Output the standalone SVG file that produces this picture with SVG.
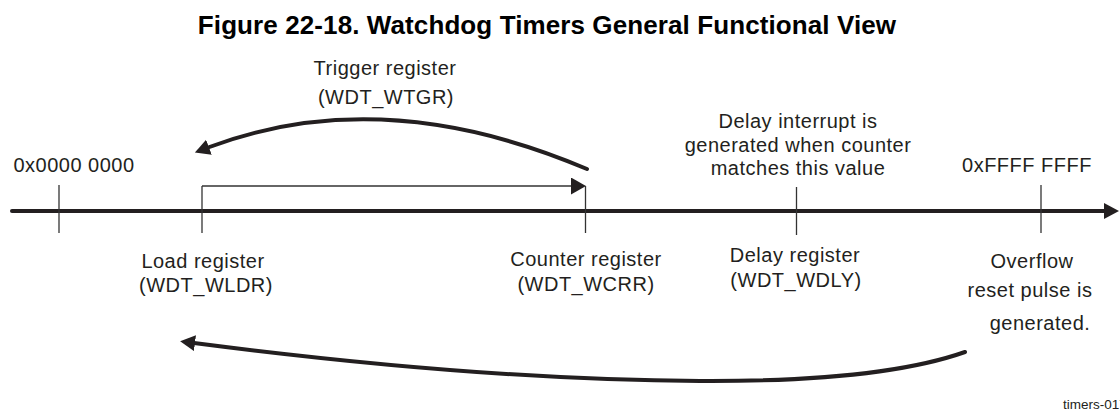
<svg xmlns="http://www.w3.org/2000/svg" width="1120" height="412" viewBox="0 0 1120 412">
  <style>
    text { font-family: "Liberation Sans", Arial, sans-serif; fill: #231f20; }
    .lbl { font-size: 20px; letter-spacing: 0.5px; text-anchor: middle; }
    .title { font-size: 26px; font-weight: bold; fill: #000; text-anchor: middle; letter-spacing: 0.1px; }
    .tag { font-size: 13.5px; }
    .tick { stroke: #333; stroke-width: 1.3; fill: none; }
    .thick { stroke: #231f20; stroke-width: 4; fill: none; stroke-linecap: round; }
    .thin { stroke: #333; stroke-width: 1.3; fill: none; }
  </style>
  <defs>
    <marker id="ah" markerUnits="userSpaceOnUse" markerWidth="16" markerHeight="18" refX="1" refY="8" orient="auto">
      <path d="M0,0 L15,8 L0,16 z" fill="#231f20"/>
    </marker>
    <marker id="ahs" markerUnits="userSpaceOnUse" markerWidth="16" markerHeight="18" refX="1" refY="8.5" orient="auto">
      <path d="M0,0 L15,8.5 L0,17 z" fill="#231f20"/>
    </marker>
  </defs>
  <rect width="1120" height="412" fill="#fff"/>
  <text class="title" x="547" y="34">Figure 22-18. Watchdog Timers General Functional View</text>

  <g id="connectors">
    <line class="thick" x1="12" y1="211" x2="1106" y2="211"/>
    <polygon points="1104,203 1119,211 1104,219" fill="#231f20"/>
    <line class="thin" x1="202" y1="186" x2="572" y2="186" marker-end="url(#ahs)"/>
    <path class="thick" d="M587,169 Q382,82 208,147.5" marker-end="url(#ah)"/>
    <path class="thick" d="M965,352 Q880,382 700,381 Q480,380 194,343" marker-end="url(#ah)"/>
  </g>

  <g id="node-start">
    <line class="tick" x1="59" y1="185" x2="59" y2="233"/>
    <text class="lbl" x="74" y="172">0x0000 0000</text>
  </g>
  <g id="node-load">
    <line class="tick" x1="202" y1="186" x2="202" y2="233"/>
    <text class="lbl" x="203" y="268">Load register</text>
    <text class="lbl" x="206" y="292">(WDT_WLDR)</text>
  </g>
  <g id="node-trigger">
    <text class="lbl" x="385" y="75">Trigger register</text>
    <text class="lbl" x="386" y="104">(WDT_WTGR)</text>
  </g>
  <g id="node-counter">
    <line class="tick" x1="585.5" y1="186" x2="585.5" y2="233"/>
    <text class="lbl" x="586" y="266">Counter register</text>
    <text class="lbl" x="586" y="291">(WDT_WCRR)</text>
  </g>
  <g id="node-delay">
    <line class="tick" x1="796.5" y1="187" x2="796.5" y2="235"/>
    <text class="lbl" x="798" y="128">Delay interrupt is</text>
    <text class="lbl" x="798" y="152">generated when counter</text>
    <text class="lbl" x="798" y="175">matches this value</text>
    <text class="lbl" x="795" y="262">Delay register</text>
    <text class="lbl" x="796" y="287">(WDT_WDLY)</text>
  </g>
  <g id="node-end">
    <line class="tick" x1="1041" y1="185" x2="1041" y2="233"/>
    <text class="lbl" x="1027" y="172">0xFFFF FFFF</text>
    <text class="lbl" x="1032" y="268">Overflow</text>
    <text class="lbl" x="1030" y="297">reset pulse is</text>
    <text class="lbl" x="1040" y="330">generated.</text>
  </g>
  <text class="tag" x="1063" y="409">timers-017</text>
</svg>
